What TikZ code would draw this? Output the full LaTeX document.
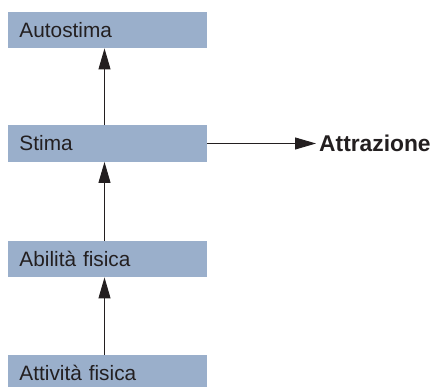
\documentclass[tikz,border=0pt]{standalone}
\usepackage{fontspec}
\setmainfont{Liberation Sans}
\usetikzlibrary{arrows.meta}
\definecolor{boxblue}{HTML}{9AAFCB}
\definecolor{inkgray}{HTML}{231F20}
\begin{document}
\begin{tikzpicture}[x=1pt,y=1pt,
  stagebox/.style={rectangle, fill=boxblue, draw=none,
    text width=176pt, inner xsep=11.5pt, inner ysep=0pt,
    minimum height=36.5pt, align=left, text=inkgray,
    font=\fontsize{20.8}{24}\selectfont},
  link/.style={draw=inkgray, line width=0.9pt,
    -{Triangle[length=21pt,width=12pt]}},
  outlabel/.style={anchor=west, inner sep=0pt, text=inkgray,
    font=\fontsize{22.8}{26}\selectfont\bfseries}]
\useasboundingbox (0,0) rectangle (437,387);
\clip (0,0) rectangle (437,387);

% the four stages, bottom to top
\node[stagebox] (autostima) at (107.5,357) {Autostima};
\node[stagebox] (stima)     at (107.5,243.5) {Stima};
\node[stagebox] (abilita)   at (107.5,128) {Abilità fisica};
\node[stagebox] (attivita)  at (107.5,14) {Attività fisica};

% outcome on the right
\node[outlabel] (attrazione) at (319,243.5) {Attrazione};

% vertical links
\draw[link] ([xshift=-3pt]attivita.north) -- ([xshift=-3pt]abilita.south);
\draw[link] ([xshift=-3pt]abilita.north) -- ([xshift=-3pt]stima.south);
\draw[link] ([xshift=-3pt]stima.north) -- ([xshift=-3pt]autostima.south);

% horizontal link
\draw[link] (stima.east) -- ([xshift=-3pt]attrazione.west);
\end{tikzpicture}
\end{document}
